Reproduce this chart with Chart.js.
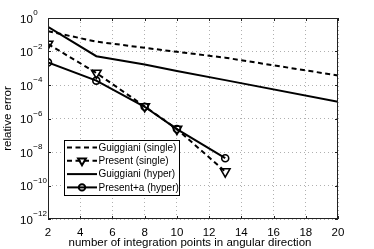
<!DOCTYPE html>
<html><head><meta charset="utf-8">
<script src="https://cdn.jsdelivr.net/npm/chart.js@4"></script>
<style>html,body{margin:0;padding:0;background:#fff}#c{display:block}</style>
</head><body>
<canvas id="c" width="374" height="249"></canvas>
<script>
const xGuiggiani=[2,5,8,10,13,20];
const xPresent=[2,5,8,10,13];
const guiggianiSingle=[0.162,0.0389,0.0166,0.00955,0.00427,3.7e-4];
const presentSingle=[0.0282,5.25e-4,5.25e-6,2.34e-7,6.8e-10];
const guiggianiHyper=[0.295,0.00525,0.00166,6.9e-4,1.95e-4,1e-5];
const presentHyper=[2.24e-3,1.82e-4,5.0e-6,2.34e-7,4.27e-9];
const seriesLabels=['Guiggiani (single)','Present (single)','Guiggiani (hyper)','Present+a (hyper)'];
const xTicks=[2,4,6,8,10,12,14,16,18,20];
const yExponents=[0,-2,-4,-6,-8,-10,-12];
const xTitle='number of integration points in angular direction';
const yTitle='relative error';

const FONT='"Liberation Sans", Arial, Helvetica, sans-serif';
const pts=(xs,ys)=>xs.map((x,i)=>({x:x,y:ys[i]}));
const DASH=[5,3.5];

function drawMarker(ctx,style,x,y,r,bw){
  ctx.save();
  ctx.lineWidth=bw;ctx.strokeStyle='#000';ctx.setLineDash([]);
  ctx.beginPath();
  if(style==='triangle'){
    // pointing down
    for(let k=0;k<3;k++){
      const a=Math.PI+k*2*Math.PI/3;
      const px=x+Math.sin(a)*r, py=y-Math.cos(a)*r;
      if(k===0)ctx.moveTo(px,py);else ctx.lineTo(px,py);
    }
    ctx.closePath();
  }else{
    ctx.arc(x,y,r,0,Math.PI*2);
  }
  ctx.stroke();
  ctx.restore();
}

const decor={
  id:'decor',
  afterDraw(chart){
    const ctx=chart.ctx, a=chart.chartArea, xs=chart.scales.x, ys=chart.scales.y;
    ctx.save();
    // frame
    ctx.strokeStyle='#222';ctx.lineWidth=1;ctx.setLineDash([]);
    ctx.strokeRect(a.left+0.5,a.top+0.5,a.right-a.left-1,a.bottom-a.top-1);
    // inner ticks
    ctx.beginPath();
    xTicks.forEach(v=>{const p=Math.round(xs.getPixelForValue(v))+0.5;
      ctx.moveTo(p,a.bottom);ctx.lineTo(p,a.bottom-3);ctx.moveTo(p,a.top);ctx.lineTo(p,a.top+3);});
    yExponents.forEach(e=>{const p=Math.round(ys.getPixelForValue(Math.pow(10,e)))+0.5;
      ctx.moveTo(a.left,p);ctx.lineTo(a.left+3,p);ctx.moveTo(a.right,p);ctx.lineTo(a.right-3,p);});
    ctx.stroke();
    // y tick labels
    ctx.fillStyle='#000';
    yExponents.forEach(e=>{
      const p=ys.getPixelForValue(Math.pow(10,e));
      ctx.font='11.5px '+FONT;ctx.textAlign='left';ctx.textBaseline='middle';
      ctx.fillText('10',20,p+1.5);
      const w=ctx.measureText('10').width;
      ctx.font='8px '+FONT;
      ctx.fillText(e===0?'0':'\u2212'+Math.abs(e),20+w+0.5,p-5);
    });
    // x tick labels
    ctx.font='11.5px '+FONT;ctx.textAlign='center';ctx.textBaseline='middle';
    xTicks.forEach(v=>{ctx.fillText(String(v),xs.getPixelForValue(v),232.5);});
    // titles
    ctx.fillText(xTitle,190,243);
    ctx.save();ctx.translate(8,(a.top+a.bottom)/2);ctx.rotate(-Math.PI/2);
    ctx.fillText(yTitle,0,0);ctx.restore();
    // legend
    const bx=64.5,by=140.5,bw=115,bh=55;
    ctx.fillStyle='#fff';ctx.fillRect(bx,by,bw,bh);
    ctx.strokeStyle='#000';ctx.lineWidth=1;ctx.strokeRect(bx,by,bw,bh);
    chart.data.datasets.forEach((ds,i)=>{
      const y=147.5+i*13.3;
      ctx.save();
      ctx.strokeStyle='#000';ctx.lineWidth=2;ctx.setLineDash(ds.borderDash||[]);
      ctx.beginPath();ctx.moveTo(67,y);ctx.lineTo(97,y);ctx.stroke();
      ctx.restore();
      if(ds.pointRadius>0){
        drawMarker(ctx,ds.pointStyle,82,y,ds.pointStyle==='triangle'?4.5:3.2,2);
      }
      ctx.fillStyle='#000';ctx.font='10px '+FONT;ctx.textAlign='left';ctx.textBaseline='middle';
      ctx.fillText(ds.label,98.5,y+0.5);
    });
    ctx.restore();
  }
};

new Chart(document.getElementById('c'),{
  type:'line',
  data:{datasets:[
    {label:seriesLabels[0],data:pts(xGuiggiani,guiggianiSingle),borderColor:'#000',borderWidth:2,borderDash:DASH,pointRadius:0,fill:false},
    {label:seriesLabels[1],data:pts(xPresent,presentSingle),borderColor:'#000',borderWidth:2,borderDash:DASH,
      pointStyle:'triangle',pointRotation:180,pointRadius:5.5,pointBorderWidth:1.6,pointBorderColor:'#000',pointBackgroundColor:'rgba(0,0,0,0)',fill:false},
    {label:seriesLabels[2],data:pts(xGuiggiani,guiggianiHyper),borderColor:'#000',borderWidth:2,pointRadius:0,fill:false},
    {label:seriesLabels[3],data:pts(xPresent,presentHyper),borderColor:'#000',borderWidth:2,
      pointStyle:'circle',pointRadius:3.5,pointBorderWidth:1.6,pointBorderColor:'#000',pointBackgroundColor:'rgba(0,0,0,0)',fill:false}
  ]},
  options:{
    responsive:false,animation:false,devicePixelRatio:1,
    layout:{padding:{left:0,right:36,top:18,bottom:0}},
    plugins:{legend:{display:false},tooltip:{enabled:false},title:{display:false}},
    elements:{line:{tension:0}},
    scales:{
      x:{type:'linear',min:2,max:20,
        afterBuildTicks:s=>{s.ticks=xTicks.map(v=>({value:v}));},
        afterFit:s=>{s.height=30;},
        ticks:{display:false},
        grid:{color:'#b0b0b0',lineWidth:1,drawTicks:false},
        border:{display:false,dash:[1,3]}},
      y:{type:'logarithmic',min:1e-12,max:1,
        afterBuildTicks:s=>{s.ticks=yExponents.map(e=>({value:Math.pow(10,e),major:true}));},
        afterFit:s=>{s.width=48;},
        ticks:{display:false},
        grid:{color:'#b0b0b0',lineWidth:1,drawTicks:false},
        border:{display:false,dash:[1,3]}}
    }
  },
  plugins:[decor]
});
</script>
</body></html>
